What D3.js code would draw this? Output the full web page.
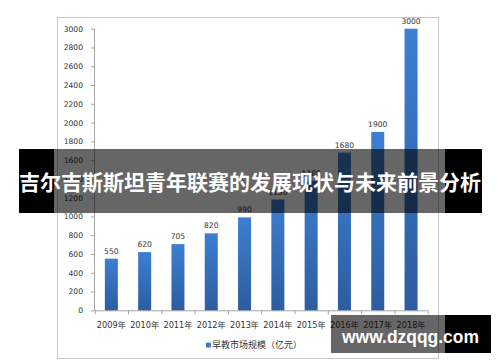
<!DOCTYPE html>
<html>
<head>
<meta charset="utf-8">
<script src="https://cdn.jsdelivr.net/npm/d3@7"></script>
<style>
  html, body { margin: 0; padding: 0; background: #fff; }
  svg { display: block; }
</style>
</head>
<body>
<script>
const years = ["2009年","2010年","2011年","2012年","2013年","2014年","2015年","2016年","2017年","2018年"];
const values = [550, 620, 705, 820, 990, 1180, 1380, 1680, 1900, 3000];
const yTicks = [0,200,400,600,800,1000,1200,1400,1600,1800,2000,2200,2400,2600,2800,3000];
const legendLabel = "早教市场规模（亿元）";
const titleText = "吉尔吉斯斯坦青年联赛的发展现状与未来前景分析";
const watermark = "www.dzqqg.com";

const W = 500, H = 362;
const svg = d3.select("body").append("svg").attr("width", W).attr("height", H);

const defs = svg.append("defs");
const grad = defs.append("linearGradient").attr("id", "barGrad")
  .attr("x1", 0).attr("y1", 0).attr("x2", 0).attr("y2", 1);
grad.append("stop").attr("offset", "0%").attr("stop-color", "#3d7fd2");
grad.append("stop").attr("offset", "100%").attr("stop-color", "#2c5d9f");

// chart frame
svg.append("rect").attr("x", 57.5).attr("y", 17.5).attr("width", 381).attr("height", 341)
  .attr("fill", "#fff").attr("stroke", "#c6c6c6").attr("stroke-width", 1);

const y = d3.scaleLinear().domain([0, 3000]).range([310.3, 28.7]);
const x = d3.scaleBand().domain(years).range([94.7, 427.7]).padding(0);
const barW = 13;

const font = "'DejaVu Sans', 'Noto Sans CJK SC', sans-serif";

// y axis
const yAxis = svg.append("g").attr("transform", "translate(95,0)")
  .call(d3.axisLeft(y).tickValues(yTicks).tickSize(4).tickPadding(8).tickFormat(d3.format("d")));
yAxis.select(".domain").attr("stroke", "#a6a6a6").attr("d", "M-0.5," + y(3000) + "V" + y(0));
yAxis.selectAll(".tick line").attr("stroke", "#a6a6a6");
yAxis.selectAll(".tick text").attr("font-family", font).attr("font-size", "7.6px").attr("fill", "#333");

// x axis line and boundary ticks
const xg = svg.append("g");
xg.append("line").attr("x1", x.range()[0]).attr("x2", x.range()[1])
  .attr("y1", y(0) + 0.5).attr("y2", y(0) + 0.5).attr("stroke", "#a6a6a6");
const bounds = years.map(d => x(d)).concat([x(years[years.length - 1]) + x.bandwidth()]);
xg.selectAll("line.bt").data(bounds).enter().append("line").attr("class", "bt")
  .attr("x1", d => d + 0.5).attr("x2", d => d + 0.5)
  .attr("y1", y(0)).attr("y2", y(0) + 4).attr("stroke", "#a6a6a6");
xg.selectAll("text").data(years).enter().append("text")
  .attr("x", d => x(d) + x.bandwidth() / 2).attr("y", 327.5)
  .attr("text-anchor", "middle").attr("font-family", font).attr("font-size", "8.2px")
  .attr("fill", "#333").text(d => d);

// bars
svg.append("g").selectAll("rect").data(values).enter().append("rect")
  .attr("x", (d, i) => x(years[i]) + x.bandwidth() / 2 - barW / 2)
  .attr("y", d => y(d)).attr("width", barW).attr("height", d => y(0) - y(d))
  .attr("fill", "url(#barGrad)");

// value labels
svg.append("g").selectAll("text").data(values).enter().append("text")
  .attr("x", (d, i) => x(years[i]) + x.bandwidth() / 2).attr("y", d => y(d) - 5)
  .attr("text-anchor", "middle").attr("font-family", font).attr("font-size", "7.6px")
  .attr("fill", "#333").text(d => d);

// legend
svg.append("rect").attr("x", 206).attr("y", 342.7).attr("width", 4.8).attr("height", 4.8).attr("fill", "#3a78c8");
svg.append("text").attr("x", 212).attr("y", 347.5).attr("font-family", "'Noto Sans CJK SC', sans-serif")
  .attr("font-size", "9px").attr("fill", "#333").text(legendLabel);

// title overlay band
const band = svg.append("g");
band.append("rect").attr("x", 19).attr("y", 149).attr("width", 35).attr("height", 64).attr("fill", "#000");
band.append("rect").attr("x", 54).attr("y", 149).attr("width", 391).attr("height", 64).attr("fill", "rgba(0,0,0,0.6)");
band.append("rect").attr("x", 445).attr("y", 149).attr("width", 37).attr("height", 64).attr("fill", "#000");
band.append("text").attr("x", 250).attr("y", 181).attr("dominant-baseline", "central")
  .attr("text-anchor", "middle").attr("font-family", "'Noto Sans CJK SC', sans-serif")
  .attr("font-weight", "bold").attr("font-size", "21px").attr("fill", "#fff").text(titleText);

// watermark
const wm = svg.append("g");
wm.append("rect").attr("x", 331).attr("y", 315).attr("width", 114).attr("height", 38).attr("fill", "rgba(0,0,0,0.6)");
wm.append("rect").attr("x", 445).attr("y", 315).attr("width", 46).attr("height", 38).attr("fill", "#000");
wm.append("text").attr("x", 342).attr("y", 343).attr("font-family", "'Liberation Sans', Arial, sans-serif")
  .attr("font-weight", "bold").attr("font-size", "19px").attr("fill", "#fff")
  .attr("textLength", 137).attr("lengthAdjust", "spacingAndGlyphs").text(watermark);
</script>
</body>
</html>
